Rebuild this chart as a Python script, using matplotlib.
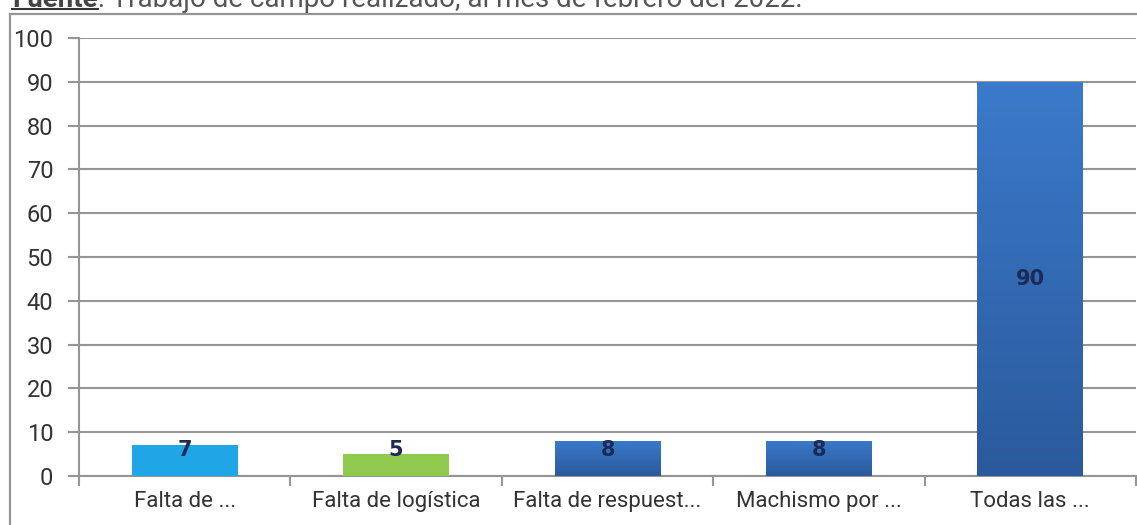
import numpy as np
import matplotlib
matplotlib.use('Agg')
import matplotlib.pyplot as plt
from matplotlib.lines import Line2D

# Datos del gráfico
categorias = ['Falta de ...', 'Falta de logística', 'Falta de respuest...', 'Machismo por ...', 'Todas las ...']
valores = [7, 5, 8, 8, 90]
colores = ['#1ea6e6', '#8fc94e', '#3470c0', '#3470c0', '#2f68b4']
yticks = [0, 10, 20, 30, 40, 50, 60, 70, 80, 90, 100]

W, H = 1137, 525
fig = plt.figure(figsize=(W / 100, H / 100), dpi=100)
fig.patch.set_facecolor('white')

# Marco exterior
gris = '#959595'
fig.add_artist(Line2D([10 / W, 10 / W], [0, 1 - 14 / H], transform=fig.transFigure, color=gris, lw=1.6))
fig.add_artist(Line2D([10 / W, 1], [1 - 14 / H, 1 - 14 / H], transform=fig.transFigure, color=gris, lw=1.6))

ax = fig.add_axes([79 / W, 1 - 476 / H, (1136 - 79) / W, (476 - 38) / H])
x = np.arange(len(categorias))
barras = ax.bar(x, valores, width=0.5, color=colores, zorder=3)

# Degradado suave en las barras azules
cmap = matplotlib.colors.LinearSegmentedColormap.from_list('g', ['#2a5a9c', '#3b7acb'])
for b, c in zip(barras, colores):
    if c in ('#3470c0', '#2f68b4'):
        grad = np.linspace(0, 1, 100).reshape(-1, 1)
        bx, by = b.get_x(), b.get_y()
        im = ax.imshow(grad, cmap=cmap, aspect='auto', origin='lower',
                       extent=[bx, bx + b.get_width(), by, by + b.get_height()], zorder=3.5)
        im.set_clip_path(b)

ax.set_xlim(-0.5, len(categorias) - 0.5)
ax.set_ylim(0, 100)
ax.set_yticks(yticks)
ax.yaxis.grid(True, color=gris, lw=1.5, zorder=0)
ax.set_axisbelow(True)

ax.set_xticks(x)
ax.set_xticklabels(categorias, fontsize=16, color='#333333', family='Roboto')
ax.set_xticks(np.arange(-0.5, len(categorias)), minor=True)
ax.tick_params(axis='x', which='major', length=0, pad=11)
ax.tick_params(axis='x', which='minor', length=7, color=gris, width=1.5)
ax.tick_params(axis='y', length=8, color=gris, width=1.5, pad=10.5, labelsize=17, labelcolor='#333333')
for lbl in ax.get_yticklabels():
    lbl.set_family('Roboto')

for s in ['top', 'right']:
    ax.spines[s].set_visible(False)
for s in ['left', 'bottom']:
    ax.spines[s].set_color(gris)
    ax.spines[s].set_linewidth(1.5)

# Etiquetas de valores
for xi, v in zip(x, valores):
    y = v / 2 if v > 50 else 6
    ax.text(xi, y, str(v), ha='center', va='center', fontsize=15, fontweight='bold',
            color='#1b2b55', zorder=5)

# Fuente (cortada arriba, como en la imagen original)
t1 = fig.text(12 / W, 1 - 7 / H, 'Fuente', fontsize=20, fontweight='bold', color='#444444',
              family='Roboto', va='baseline')
fig.canvas.draw()
bb = t1.get_window_extent()
fig.add_artist(Line2D([bb.x0 / W, bb.x1 / W], [(H - 9) / H, (H - 9) / H], transform=fig.transFigure,
                      color='#333333', lw=1.5))
fig.text(bb.x1 / W, 1 - 7 / H, ': Trabajo de campo realizado, al mes de febrero del 2022.', fontsize=20,
         color='#555555', family='Roboto', va='baseline')

fig.savefig('out.png', dpi=100)
